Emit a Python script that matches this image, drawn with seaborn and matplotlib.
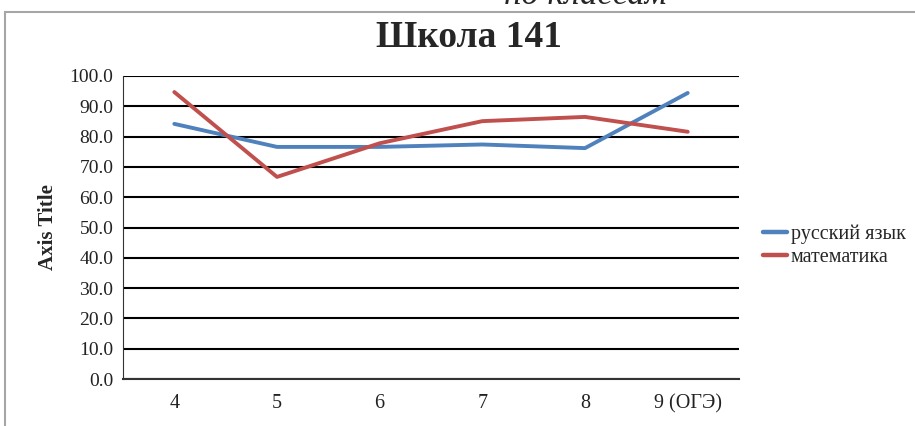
import pandas as pd
import matplotlib.pyplot as plt
import seaborn as sns
from matplotlib.patches import Rectangle

# данные по классам
grades = ['4', '5', '6', '7', '8', '9 (ОГЭ)']
russian = [84.2, 76.6, 76.6, 77.4, 76.2, 94.4]
math = [94.7, 66.7, 77.8, 85.1, 86.5, 81.6]
series_names = ['русский язык', 'математика']

df = pd.DataFrame({
    'grade': grades * 2,
    'score': russian + math,
    'subject': [series_names[0]] * len(grades) + [series_names[1]] * len(grades),
})

sns.set_style('white')
plt.rcParams['font.family'] = ['Liberation Serif', 'DejaVu Serif']

fig = plt.figure(figsize=(9.15, 4.26), dpi=100)
ax = fig.add_axes([0.1344, 0.1103, 0.6733, 0.7113])

# рамка диаграммы
fig.patches.append(Rectangle((5 / 915, -0.05), 1.0, (426 - 12) / 426 + 0.05,
                             transform=fig.transFigure, fill=False,
                             edgecolor='#a6a6a6', linewidth=1.5))

sns.lineplot(data=df, x='grade', y='score', hue='subject', sort=False,
             palette=['#4f81bd', '#c0504d'], linewidth=2.8, ax=ax)

ax.set_ylim(0, 100)
ax.set_xlim(-0.5, 5.5)
ax.set_yticks(range(0, 101, 10))
ax.set_yticklabels([f'{v:.1f}' for v in range(0, 101, 10)], fontsize=14, color='#222222')
ax.tick_params(axis='y', length=4, width=1, color='#333333', pad=3)
ax.tick_params(axis='x', length=0, labelsize=14.5, pad=11, colors='#222222')
ax.yaxis.grid(True, color='black', linewidth=1.5)
ax.set_axisbelow(True)
for s in ['top', 'right']:
    ax.spines[s].set_visible(False)
ax.spines['left'].set_color('#333333')
ax.spines['bottom'].set_color('#333333')
ax.spines['bottom'].set_linewidth(1.5)

ax.set_xlabel('')
ax.set_ylabel('Axis Title', fontsize=15, fontweight='bold', labelpad=8)

leg = ax.legend(loc='center left', bbox_to_anchor=(1.01, 0.44), frameon=False,
                fontsize=14.5, handlelength=1.2, handletextpad=0.15, labelspacing=0.2)
for line in leg.get_lines():
    line.set_linewidth(3.2)

fig.text(0.513, 0.911, 'Школа 141', ha='center', va='center', fontsize=27,
         fontweight='bold')
fig.text(0.64, 1.0 - 4 / 426, 'по классам', ha='center', va='baseline',
         fontsize=25, style='italic')

fig.savefig('out.png', dpi=100)
